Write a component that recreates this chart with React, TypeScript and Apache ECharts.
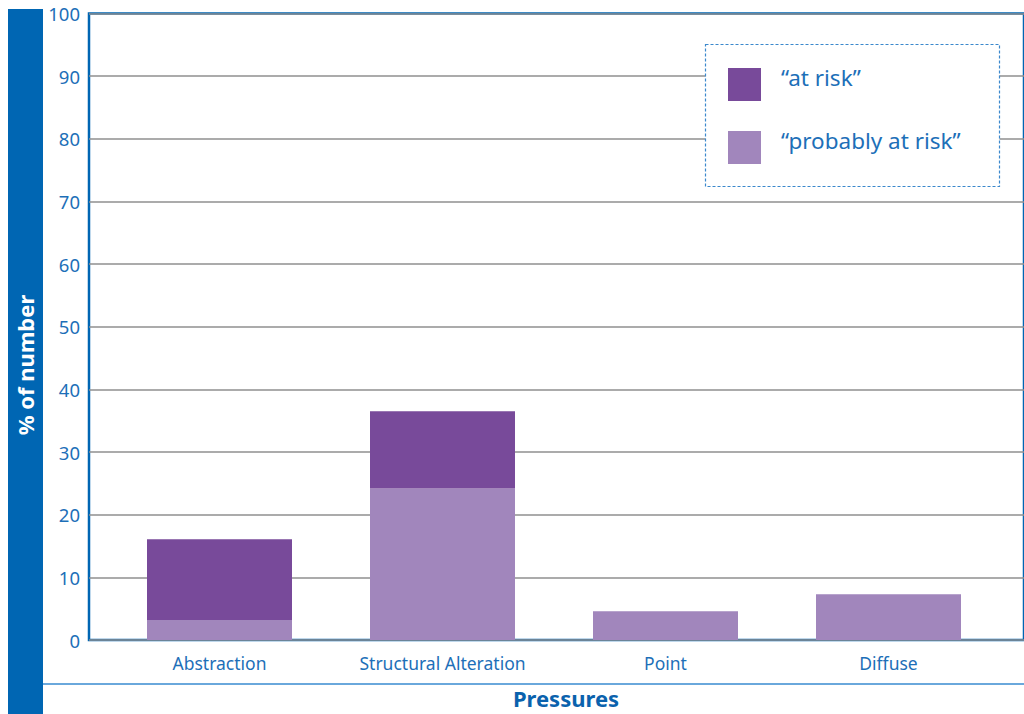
import React, { useEffect, useRef } from "react";
import * as echarts from "echarts";

const categories = ["Abstraction", "Structural Alteration", "Point", "Diffuse"];
const probablyAtRisk = [3.2, 24.2, 4.6, 7.3];
const atRisk = [12.9, 12.3, 0, 0];
const yTicks = { min: 0, max: 100, interval: 10 };
const seriesNames = ["\u201cat risk\u201d", "\u201cprobably at risk\u201d"];

const BLUE = "#0066b3";
const TEXT = "#1d6fb8";
const FONT = "'Noto Sans', sans-serif";

export default function App() {
  const ref = useRef<HTMLDivElement>(null);
  useEffect(() => {
    document.body.style.margin = "0";
    const chart = echarts.init(ref.current!, null, { renderer: "svg" });
    chart.setOption({
      animation: false,
      textStyle: { fontFamily: FONT },
      grid: [
        { left: 89, right: -10, top: 13.5, bottom: 74, show: true, borderColor: BLUE, borderWidth: 2.5, backgroundColor: "transparent" },
        { left: 108, right: 24, top: 13.5, bottom: 74 },
      ],
      xAxis: [
        { gridIndex: 0, type: "value", show: false, min: 0, max: 1 },
        {
          gridIndex: 1,
          type: "category",
          data: categories,
          axisLine: { show: false },
          axisTick: { show: false },
          axisLabel: { margin: 14, fontSize: 17.5, color: TEXT, fontFamily: FONT },
        },
      ],
      yAxis: [
        {
          gridIndex: 0,
          type: "value",
          min: yTicks.min,
          max: yTicks.max,
          interval: yTicks.interval,
          axisLine: { show: false },
          axisTick: { show: false },
          axisLabel: { margin: 9, fontSize: 18.5, color: TEXT, fontFamily: FONT },
          splitLine: { show: true, lineStyle: { color: "#8f8f8f", width: 1.6 } },
        },
        { gridIndex: 1, type: "value", min: yTicks.min, max: yTicks.max, show: false, splitLine: { show: false } },
      ],
      legend: {
        data: seriesNames,
        orient: "vertical",
        left: 728,
        top: 66,
        padding: 0,
        itemWidth: 33,
        itemHeight: 33,
        itemGap: 28,
        icon: "rect",
        selectedMode: false,
        formatter: (name: string) => "{a|" + name + "}",
        textStyle: {
          fontSize: 22.5,
          color: TEXT,
          fontFamily: FONT,
          padding: [0, 0, 0, 15],
          rich: { a: { fontSize: 22.5, color: TEXT, fontFamily: FONT, padding: [0, 0, 14, 0] } },
        },
      },
      series: [
        {
          name: seriesNames[1],
          type: "bar",
          stack: "total",
          xAxisIndex: 1,
          yAxisIndex: 1,
          barWidth: 145,
          itemStyle: { color: "#a186bc" },
          data: probablyAtRisk,
        },
        {
          name: seriesNames[0],
          type: "bar",
          stack: "total",
          xAxisIndex: 1,
          yAxisIndex: 1,
          barWidth: 145,
          itemStyle: { color: "#784a9a" },
          data: atRisk,
        },
      ],
      graphic: [
        { type: "rect", z: 100, shape: { x: 8, y: 9, width: 35, height: 705 }, style: { fill: BLUE } },
        {
          type: "text",
          z: 101,
          x: 25,
          y: 365,
          rotation: Math.PI / 2,
          style: { text: "% of number", fill: "#ffffff", font: "bold 22px 'Noto Sans', sans-serif", align: "center", verticalAlign: "middle" },
        },
        { type: "line", z: 100, shape: { x1: 43, y1: 684, x2: 1024, y2: 684 }, style: { stroke: "#6aa8dc", lineWidth: 2 } },
        {
          type: "text",
          z: 100,
          x: 566,
          y: 698,
          style: { text: "Pressures", fill: "#0a62ad", font: "bold 22px 'Noto Sans', sans-serif", align: "center", verticalAlign: "middle" },
        },
        {
          type: "rect",
          z: 3,
          shape: { x: 705.5, y: 44.5, width: 294, height: 142 },
          style: { fill: "#ffffff", stroke: "#3b88cc", lineWidth: 1.2, lineDash: [3, 2] },
        },
      ],
    });
    return () => chart.dispose();
  }, []);
  return <div ref={ref} style={{ width: 1024, height: 714 }} />;
}
